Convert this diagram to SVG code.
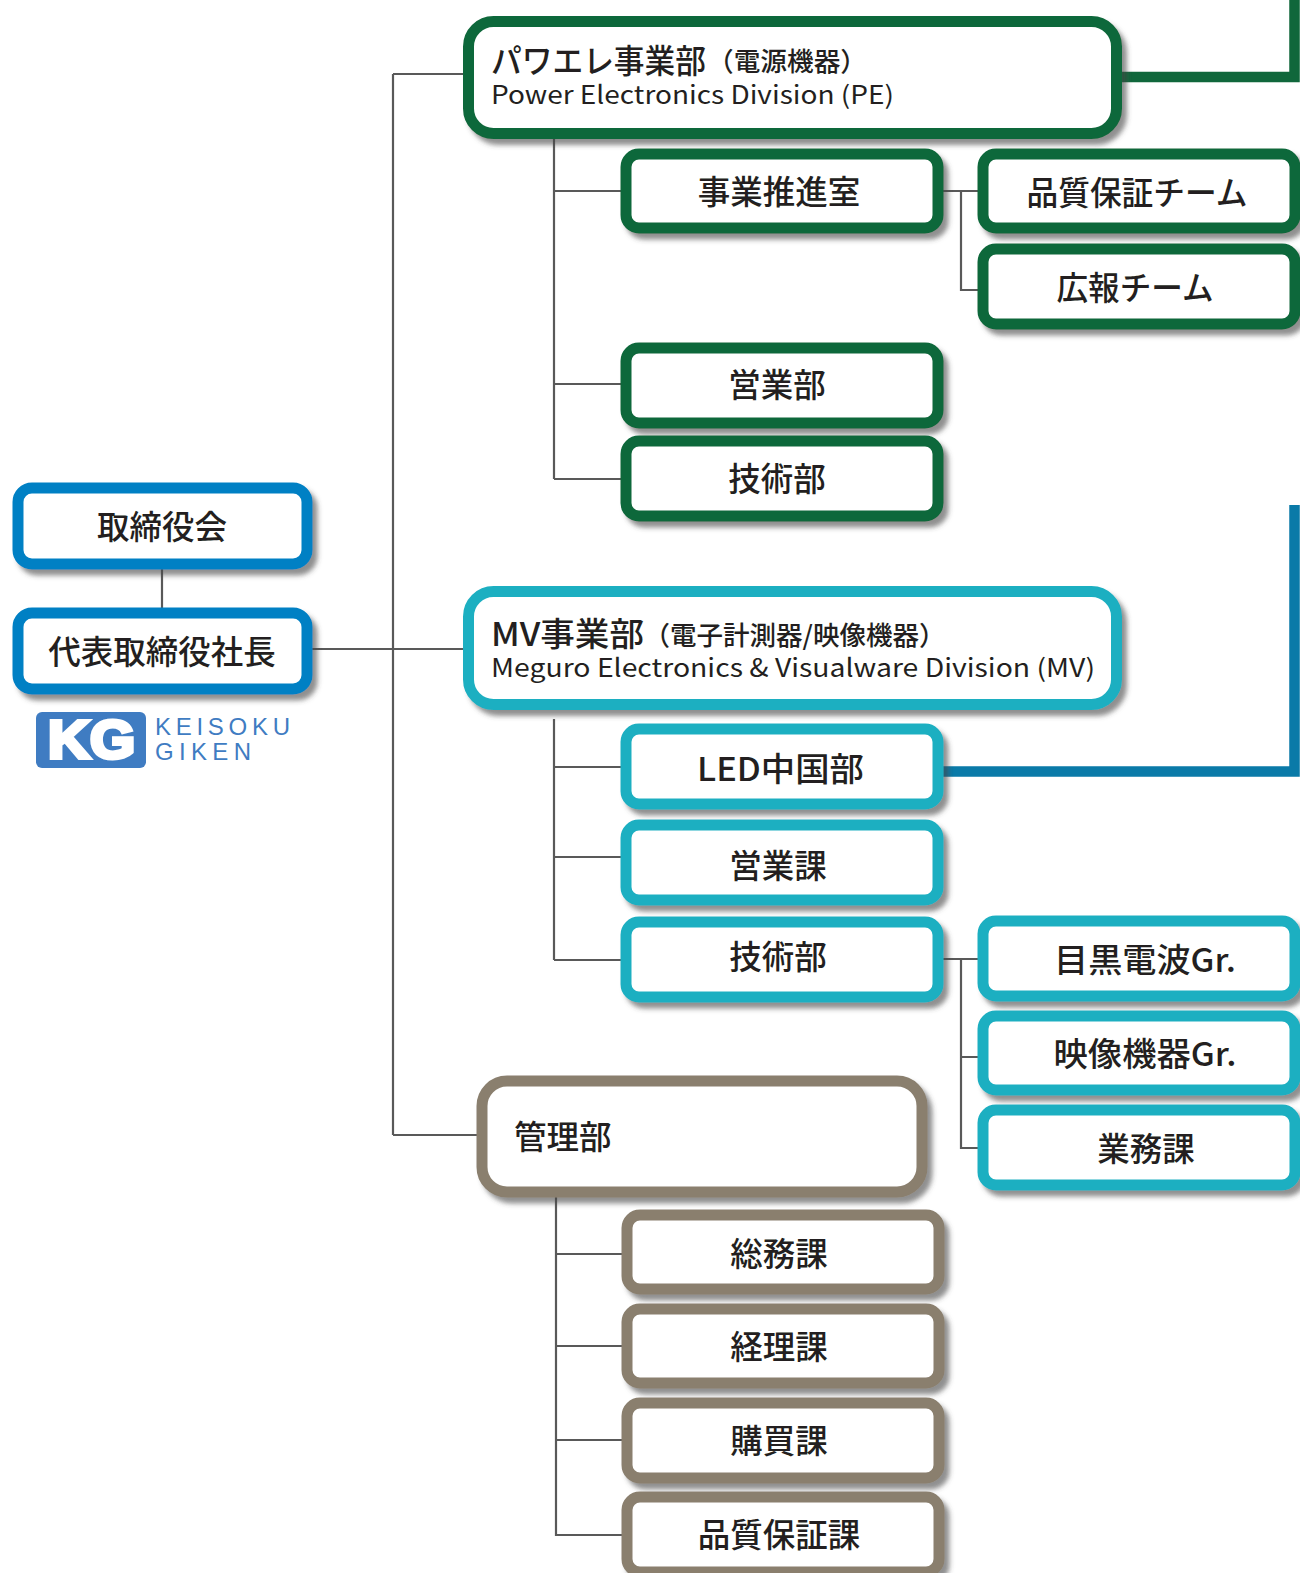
<svg xmlns="http://www.w3.org/2000/svg" width="1300" height="1573" viewBox="0 0 1300 1573">
<defs>
<filter id="s" x="-10%" y="-20%" width="125%" height="150%"><feDropShadow dx="5" dy="6" stdDeviation="2.500" flood-color="#444" flood-opacity=".6"/></filter>
</defs>
<style>
rect.b{fill:#fff;stroke-width:11;filter:url(#s)}
.pe{stroke:#10673b}.mv{stroke:#1eafc1}.ad{stroke:#8a7f6e}.top{stroke:#0080c4}
text{font-family:"Noto Sans CJK JP","Noto Sans",sans-serif;font-weight:500;fill:#231f20;font-size:32.500px}
.m{text-anchor:middle}
.sub{font-size:26.500px;font-weight:500}
.en{font-size:25px;font-weight:400}
.c{fill:none;stroke:#595959;stroke-width:2.200}
.logo{font-family:"Liberation Sans",sans-serif;font-weight:400;fill:#3f7cc2;font-size:24px}
.kg{font-family:"Liberation Sans",sans-serif;font-weight:700;fill:#fff;stroke:#fff;stroke-width:4;font-size:54px}
</style>
<g id="connectors">
<path class="c" d="M162 569V608M312 649H463M393 74V1135M393 74H463M393 1135H477"/>
<path class="c" d="M554 139V479M554 191H621M554 384H621M554 479H621M942 191H978M961 191V290H978"/>
<path class="c" d="M554 719V960M554 767H621M554 857H621M554 960H621M943 959H978M961 959V1148H978M961 1057H978"/>
<path class="c" d="M556 1197V1535H622M556 1254H622M556 1346H622M556 1440H622"/>
<path d="M1122 77H1294.500V0" fill="none" stroke="#10673b" stroke-width="10.500"/>
<path d="M942 771.500H1294.500V505" fill="none" stroke="#0a7aa8" stroke-width="10.500"/>
</g>
<g id="board"><rect class="b top" x="18" y="488" width="289" height="76" rx="14"/><text class="m" x="162" y="539">取締役会</text></g>
<g id="president"><rect class="b top" x="18" y="613" width="289" height="76" rx="14"/><text class="m" x="162" y="664">代表取締役社長</text></g>
<g id="logo"><rect x="36" y="712" width="110" height="56" rx="6" fill="#3f7cc2"/><text class="kg" x="48" y="758" textLength="87" lengthAdjust="spacingAndGlyphs">KG</text><text class="logo" x="155" y="735" textLength="135">KEISOKU</text><text class="logo" x="155" y="760" textLength="96">GIKEN</text></g>

<g id="pe"><rect class="b pe" x="468.500" y="21.500" width="648" height="112" rx="25"/><text x="491" y="73" textLength="215" lengthAdjust="spacingAndGlyphs">パワエレ事業部</text><text class="sub" x="707" y="71" textLength="160" lengthAdjust="spacingAndGlyphs">（電源機器）</text><text class="en" x="491" y="104" textLength="403" lengthAdjust="spacingAndGlyphs">Power Electronics Division (PE)</text></g>
<g id="pe-promo"><rect class="b pe" x="626" y="154" width="312" height="74" rx="13"/><text class="m" x="779" y="204">事業推進室</text></g>
<g id="pe-qa"><rect class="b pe" x="983" y="154" width="312" height="74" rx="13"/><text class="m" x="1137" y="205" textLength="221" lengthAdjust="spacingAndGlyphs">品質保証チーム</text></g>
<g id="pe-pr"><rect class="b pe" x="983" y="249" width="312" height="75" rx="13"/><text class="m" x="1135" y="300" textLength="157" lengthAdjust="spacingAndGlyphs">広報チーム</text></g>
<g id="pe-sales"><rect class="b pe" x="626" y="348" width="312" height="75" rx="13"/><text class="m" x="777" y="397">営業部</text></g>
<g id="pe-tech"><rect class="b pe" x="626" y="441" width="312" height="75" rx="13"/><text class="m" x="777" y="491">技術部</text></g>

<g id="mv"><rect class="b mv" x="468.500" y="591.500" width="648" height="113" rx="25"/><text x="491" y="646" textLength="153" lengthAdjust="spacingAndGlyphs">MV事業部</text><text class="sub" x="643.500" y="645" textLength="302" lengthAdjust="spacingAndGlyphs">（電子計測器/映像機器）</text><text class="en" x="491" y="677" textLength="604" lengthAdjust="spacingAndGlyphs">Meguro Electronics &amp; Visualware Division (MV)</text></g>
<g id="mv-led"><rect class="b mv" x="626" y="729" width="312" height="75" rx="13"/><text class="m" x="780.500" y="781" textLength="167" lengthAdjust="spacingAndGlyphs">LED中国部</text></g>
<g id="mv-sales"><rect class="b mv" x="626" y="825" width="312" height="75" rx="13"/><text class="m" x="778" y="878">営業課</text></g>
<g id="mv-tech"><rect class="b mv" x="626" y="922" width="312" height="75" rx="13"/><text class="m" x="778" y="969">技術部</text></g>
<g id="mv-meguro"><rect class="b mv" x="983" y="921" width="312" height="75" rx="13"/><text class="m" x="1145" y="972" textLength="182" lengthAdjust="spacingAndGlyphs">目黒電波Gr.</text></g>
<g id="mv-video"><rect class="b mv" x="983" y="1016" width="312" height="74" rx="13"/><text class="m" x="1145" y="1066" textLength="183" lengthAdjust="spacingAndGlyphs">映像機器Gr.</text></g>
<g id="mv-biz"><rect class="b mv" x="983" y="1110" width="312" height="75" rx="13"/><text class="m" x="1146" y="1161">業務課</text></g>

<g id="admin"><rect class="b ad" x="482" y="1081" width="440" height="111" rx="25"/><text x="514" y="1149">管理部</text></g>
<g id="ad-general"><rect class="b ad" x="627" y="1215" width="312" height="74" rx="13"/><text class="m" x="779" y="1266">総務課</text></g>
<g id="ad-account"><rect class="b ad" x="627" y="1309" width="312" height="74" rx="13"/><text class="m" x="779" y="1359">経理課</text></g>
<g id="ad-purchase"><rect class="b ad" x="627" y="1403" width="312" height="75" rx="13"/><text class="m" x="779" y="1453">購買課</text></g>
<g id="ad-qa"><rect class="b ad" x="627" y="1497" width="312" height="75" rx="13"/><text class="m" x="779" y="1547">品質保証課</text></g>
</svg>
